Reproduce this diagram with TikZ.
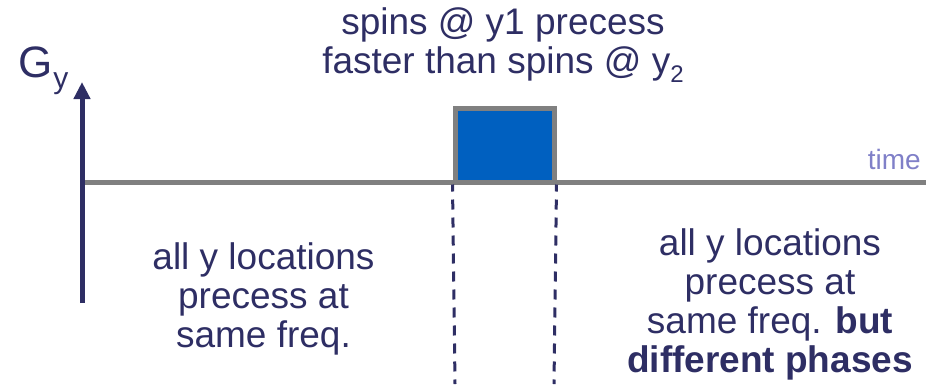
\documentclass[tikz,border=0pt]{standalone}
\usepackage{fontspec}
\setmainfont{Liberation Sans}
\usetikzlibrary{arrows.meta}
\definecolor{navy}{RGB}{46,46,100}
\definecolor{axisgray}{RGB}{128,128,128}
\definecolor{pulseblue}{RGB}{0,96,192}
\definecolor{lavender}{RGB}{128,128,200}
\tikzset{
  txt/.style={inner sep=0pt, anchor=base, align=center, text=navy,
    font=\fontsize{37}{39}\selectfont},
  gaxis/.style={draw=navy, line width=5pt, -{Triangle[width=16pt,length=17pt]}},
  timeline/.style={draw=axisgray, line width=5pt},
  pulse/.style={draw=axisgray, line width=5pt, fill=pulseblue, inner sep=0pt,
    minimum width=99pt, minimum height=74pt},
  dashline/.style={draw=navy, line width=3pt, dash pattern=on 10pt off 8pt, dash phase=3pt},
  timelabel/.style={inner sep=0pt, anchor=base east, text=lavender,
    font=\fontsize{28}{30}\selectfont}
}
\begin{document}
\begin{tikzpicture}[x=1pt,y=-1pt]
\useasboundingbox (0,0) rectangle (926,384);
% coordinates
\coordinate (ybot) at (82,303);
\coordinate (ytop) at (82,82);
\coordinate (tstart) at (85,182);
\coordinate (tend) at (926,182);
\coordinate (d1end) at (455,384);
\coordinate (d2end) at (554,384);
% time axis
\draw[timeline] (tstart) -- (tend);
% pulse
\node[pulse] (pulse) at (504.5,145) {};
% dashed lines
\draw[dashline] (pulse.south west) -- (d1end);
\draw[dashline] (pulse.south east) -- (d2end);
% gradient axis
\draw[gaxis] (ybot) -- (ytop);
\node[inner sep=0pt, anchor=base west, text=navy, font=\fontsize{44}{46}\selectfont] (gy) at (18,77) {G\kern1pt\raisebox{-11pt}{\fontsize{30}{32}\selectfont y}};
% labels
\node[timelabel] (time) at (921,169) {time};
\node[txt] (top) at (503,73) {spins @ y1 precess\\faster than spins @ y\raisebox{-9pt}{\fontsize{24}{26}\selectfont 2}};
\node[txt] (left) at (263.5,347) {all y locations\\precess at\\same freq.};
\node[txt] (right) at (770,372) {all y locations\\precess at\\same freq. \textbf{but}\\\textbf{different phases}};
\end{tikzpicture}
\end{document}
